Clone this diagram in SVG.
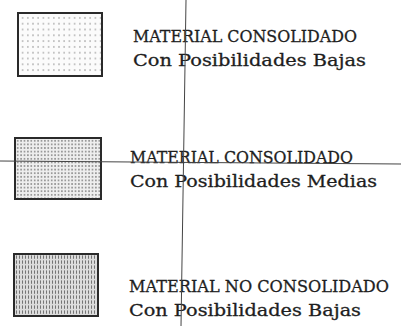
<svg xmlns="http://www.w3.org/2000/svg" width="401" height="328" viewBox="0 0 401 328">
<style>
.box{stroke:#2a2a2a;stroke-width:2}
.t{font-family:"DejaVu Serif","Liberation Serif",serif;font-size:16.6px;fill:#1e1e1e;stroke:#1e1e1e;stroke-width:0.3}
.ln{stroke:#444;stroke-width:1;fill:none}
</style>
<defs>
<pattern id="p1" width="5.2" height="5.8" patternUnits="userSpaceOnUse" x="20" y="15">
<rect width="5.2" height="5.8" fill="#fbfbfb"/>
<circle cx="2.6" cy="2.9" r="0.8" fill="#8a8a8a"/>
</pattern>
<pattern id="p2" width="3.4" height="3.6" patternUnits="userSpaceOnUse" x="16" y="139">
<rect width="3.4" height="3.6" fill="#eeeeee"/>
<ellipse cx="1.7" cy="1.8" rx="0.7" ry="0.9" fill="#666"/>
</pattern>
<pattern id="p3" width="3" height="5" patternUnits="userSpaceOnUse" x="15" y="255">
<rect width="3" height="5" fill="#dcdcdc"/>
<line x1="1.5" y1="0.4" x2="1.5" y2="3.8" stroke="#6a6a6a" stroke-width="0.9"/>
</pattern>
</defs>
<g id="entry1">
<rect class="box" x="18" y="13" width="84" height="63" fill="url(#p1)"/>
<text class="t" x="133" y="42" textLength="224" lengthAdjust="spacingAndGlyphs">MATERIAL CONSOLIDADO</text>
<text class="t" x="133" y="66" textLength="233" lengthAdjust="spacingAndGlyphs">Con Posibilidades Bajas</text>
</g>
<g id="entry2">
<rect class="box" x="15" y="138" width="86" height="61" fill="url(#p2)"/>
<text class="t" x="130" y="163" textLength="223" lengthAdjust="spacingAndGlyphs">MATERIAL CONSOLIDADO</text>
<text class="t" x="130" y="187" textLength="247" lengthAdjust="spacingAndGlyphs">Con Posibilidades Medias</text>
</g>
<g id="entry3">
<rect class="box" x="14" y="254" width="84" height="62" fill="url(#p3)"/>
<text class="t" x="129" y="292" textLength="260" lengthAdjust="spacingAndGlyphs">MATERIAL NO CONSOLIDADO</text>
<text class="t" x="129" y="316" textLength="232" lengthAdjust="spacingAndGlyphs">Con Posibilidades Bajas</text>
</g>
<g id="connectors">
<line class="ln" x1="186" y1="0" x2="181" y2="326"/>
<line class="ln" x1="0" y1="161" x2="401" y2="164"/>
</g>
</svg>
